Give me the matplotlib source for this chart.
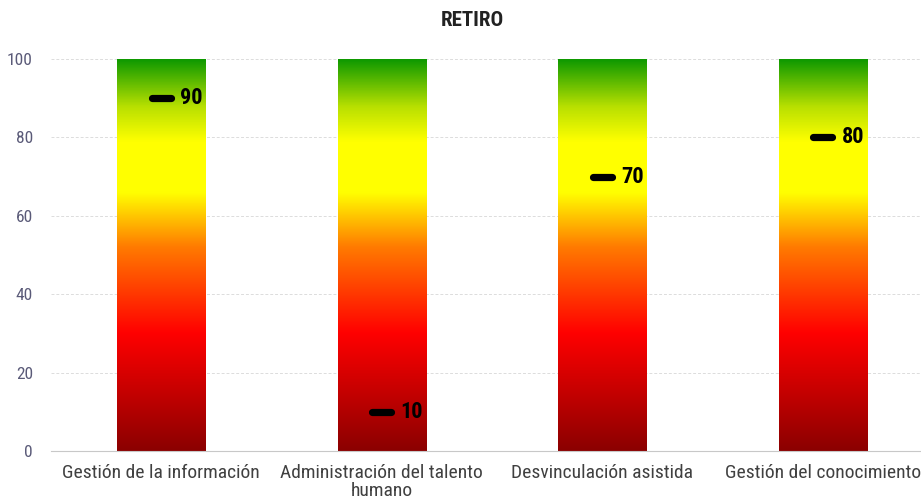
import numpy as np
import matplotlib
matplotlib.use("Agg")
import matplotlib.pyplot as plt
from matplotlib.colors import LinearSegmentedColormap

plt.rcParams['font.family'] = ['Liberation Sans Narrow', 'Roboto Condensed', 'DejaVu Sans']

# data
categories = ["Gestión de la información", "Administración del talento\nhumano",
              "Desvinculación asistida", "Gestión del conocimiento"]
values = [90, 10, 70, 80]
bar_top = 100
yticks = [0, 20, 40, 60, 80, 100]

# gradient: dark red at 0 -> red -> orange -> yellow -> green at 100
grad = LinearSegmentedColormap.from_list("retiro", [
    (0.00, "#8b0000"),
    (0.30, "#ff0000"),
    (0.52, "#ff7a00"),
    (0.66, "#ffff00"),
    (0.79, "#ffff00"),
    (0.88, "#b8e000"),
    (1.00, "#0f9900"),
])

fig = plt.figure(figsize=(9.21, 5.04), dpi=100)
ax = fig.add_axes([51 / 921, 53 / 504, 882 / 921, 392 / 504])

x = np.arange(len(categories))
bars = ax.bar(x, [bar_top] * len(categories), width=0.4, color="none", edgecolor="none")
gimg = np.linspace(0, 1, 256).reshape(-1, 1)
for b in bars:
    x0, w = b.get_x(), b.get_width()
    ax.imshow(gimg, cmap=grad, origin="lower", aspect="auto",
              extent=[x0, x0 + w, 0, bar_top], zorder=2)

# value markers
ax.hlines(values, x - 0.042, x + 0.042, colors="black", linewidth=5.2,
          zorder=3, capstyle="round")
for xi, v in zip(x, values):
    ax.text(xi + 0.085, v, str(v), ha="left", va="center", fontsize=16,
            fontweight="bold", color="black", zorder=4)

ax.set_xlim(-0.5, len(categories) - 0.5)
ax.set_ylim(0, 100)
ax.set_yticks(yticks)
ax.set_xticks(x)
ax.set_xticklabels(categories, fontsize=14, color="#404040", linespacing=1.05)
ax.tick_params(axis="y", labelsize=12.5, labelcolor="#5a5a78", length=0, pad=13)
ax.tick_params(axis="x", length=0, pad=9)
ax.grid(axis="y", color="#dcdcdc", linestyle=(0, (3, 2)), linewidth=0.7, zorder=0)
ax.set_axisbelow(True)
for s in ["top", "right", "left"]:
    ax.spines[s].set_visible(False)
ax.spines["bottom"].set_color("#c8c8c8")

fig.text(472 / 921, 1 - 20 / 504, "RETIRO", ha="center", va="center",
         fontsize=15, fontweight="bold", color="#222222")

fig.savefig("out.png", dpi=100)
